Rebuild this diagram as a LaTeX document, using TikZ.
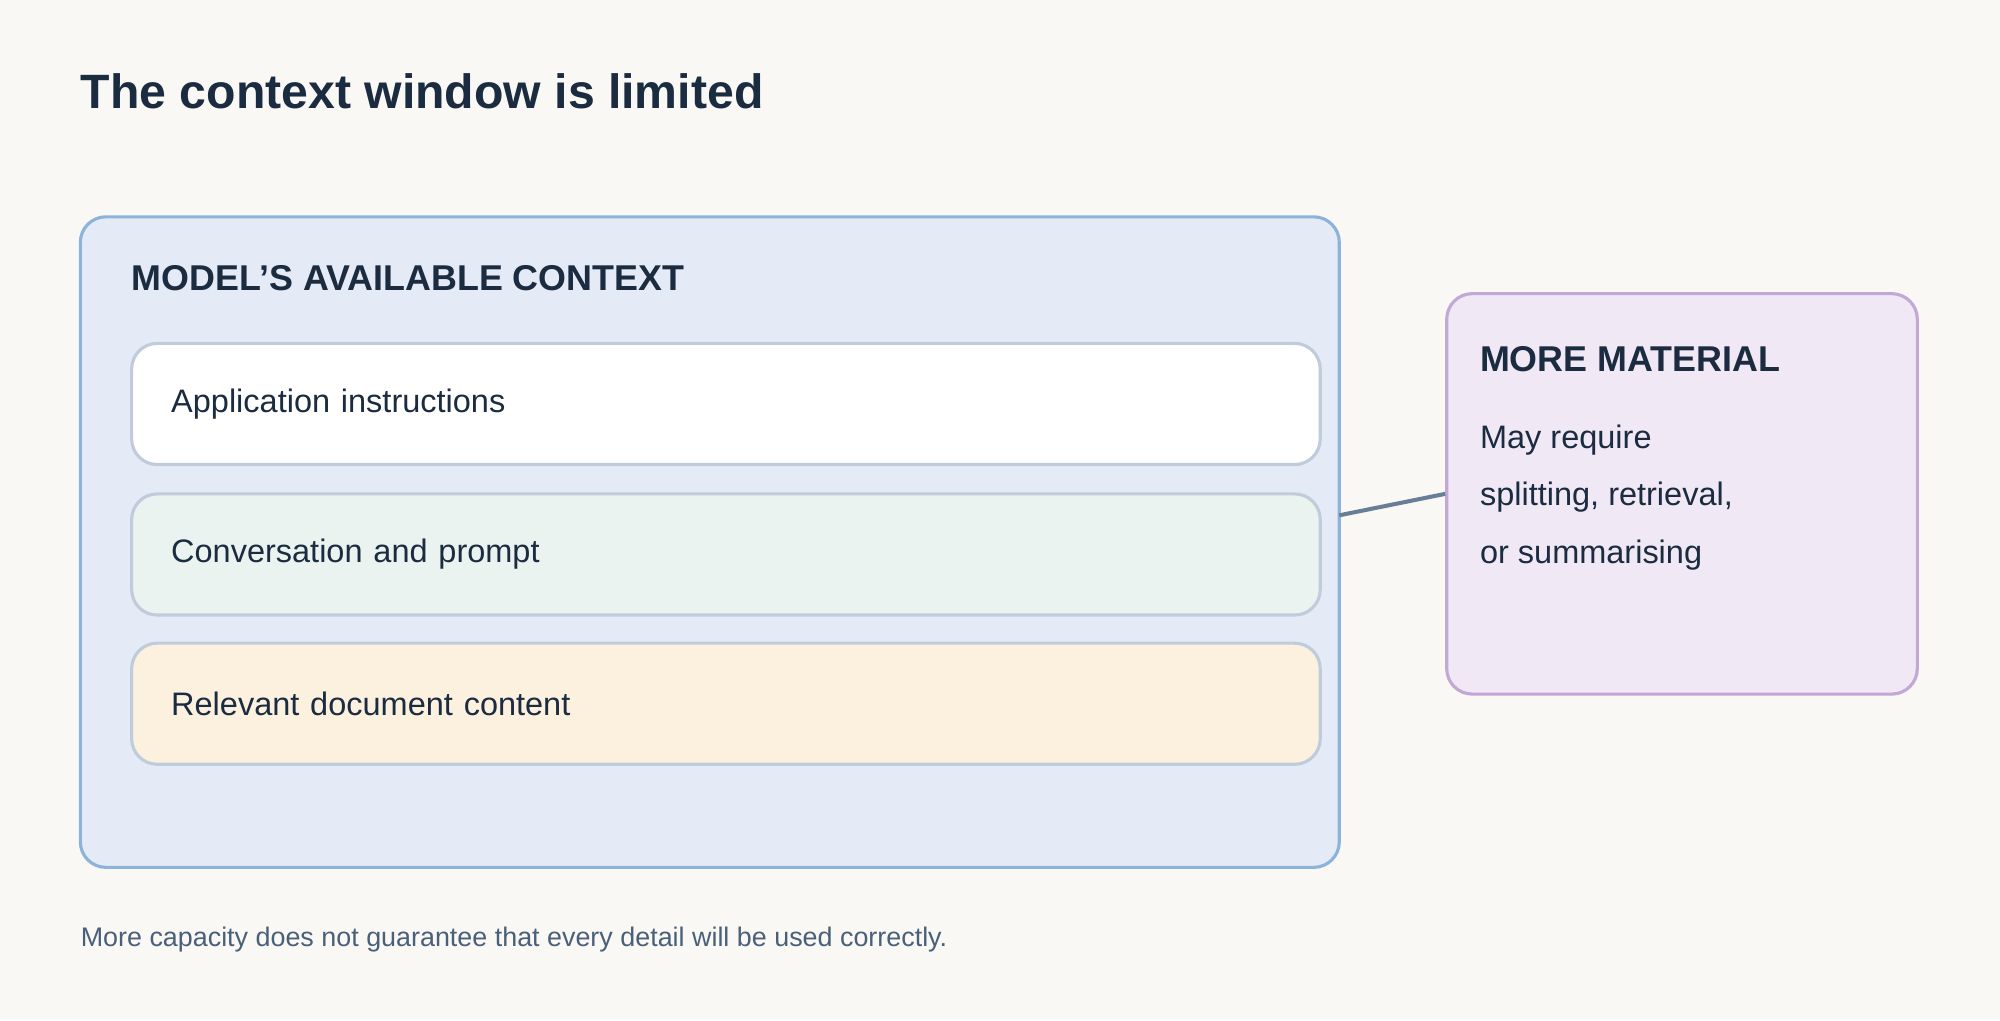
\documentclass[tikz,border=0pt]{standalone}
\usepackage{fontspec}
\setmainfont{Liberation Sans}
\usetikzlibrary{positioning}
\definecolor{bgcol}{HTML}{F9F8F5}
\definecolor{ink}{HTML}{1B2B40}
\definecolor{note}{HTML}{4A6079}
\definecolor{ctxfill}{HTML}{E4EBF6}
\definecolor{ctxline}{HTML}{8DB3DA}
\definecolor{rowline}{HTML}{C0CCDB}
\definecolor{convfill}{HTML}{EAF3F0}
\definecolor{docfill}{HTML}{FCF0DF}
\definecolor{morefill}{HTML}{F1E8F6}
\definecolor{moreline}{HTML}{C2A8D6}
\definecolor{linkcol}{HTML}{687D96}
\tikzset{
  row/.style={draw=rowline, line width=1.4pt, rounded corners=0.4cm,
    minimum width=18.02cm, minimum height=1.9cm, anchor=north west,
    text=ink, font=\fontsize{14.5}{17}\selectfont, align=left,
    text width=17.4cm, inner xsep=0.62cm},
  head/.style={anchor=base west, text=ink, font=\bfseries\fontsize{16}{19}\selectfont, inner sep=0pt}
}
\begin{document}
\begin{tikzpicture}[x=0.02cm, y=-0.02cm]
  % background
  \fill[bgcol] (0,0) rectangle (1568,800);
  \useasboundingbox (0,0) rectangle (1568,800);

  % title
  \node[anchor=base west, text=ink, inner sep=0pt, font=\bfseries\fontsize{21.5}{26}\selectfont] (title) at (63,85) {The context window is limited};

  % context box
  \draw[fill=ctxfill, draw=ctxline, line width=1.4pt, rounded corners=0.4cm] (63,170) rectangle (1050,680);
  \coordinate (ctxedge) at (1050,404);
  \node[head] (ctxhead) at (103,228) {MODEL’S AVAILABLE CONTEXT};

  % rows
  \node[row, fill=white] (app) at (102,268) {Application instructions};
  \node[row, fill=convfill] (conv) at (102,386) {Conversation and prompt};
  \node[row, fill=docfill] (doc) at (102,503) {Relevant document content};

  % more material
  \node[draw=moreline, fill=morefill, line width=1.4pt, rounded corners=0.4cm, anchor=north west,
    minimum width=7.38cm, minimum height=6.28cm] (more) at (1133,229) {};
  \node[head] (morehead) at (1160,291) {MORE MATERIAL};
  \node[anchor=north west, inner sep=0pt, text=ink, align=left,
    font=\fontsize{14.5}{25.5}\selectfont] (moretext) at (1160,333) {May require\\splitting, retrieval,\\or summarising};

  % link
  \draw[linkcol, line width=1.8pt] (ctxedge) -- (more.west);

  % footer
  \node[anchor=base west, inner sep=0pt, text=note, font=\fontsize{12}{14}\selectfont] (foot) at (63,742) {More capacity does not guarantee that every detail will be used correctly.};
\end{tikzpicture}
\end{document}
